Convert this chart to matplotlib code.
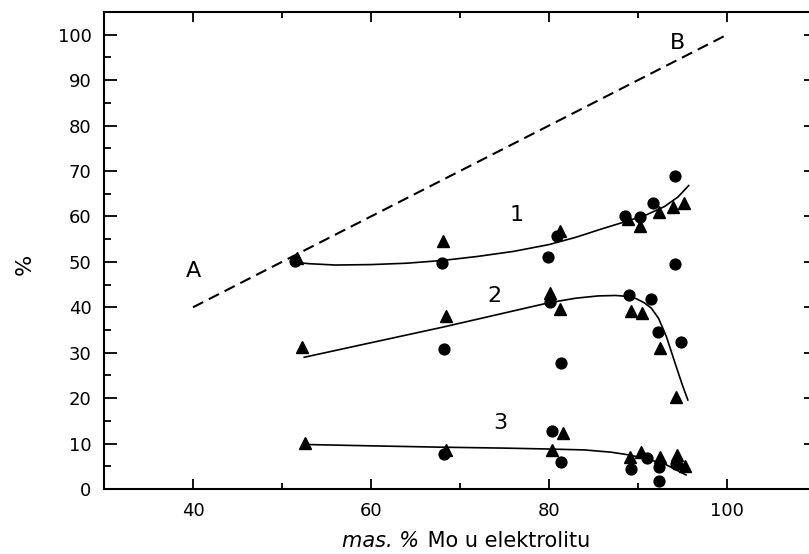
import matplotlib
matplotlib.use('Agg')
import matplotlib.pyplot as plt
from matplotlib.ticker import MultipleLocator

# data
# series 1
x1_circ = [51.5, 68.0, 79.9, 80.9, 88.5, 90.2, 91.7, 94.2, 94.2]
y1_circ = [50.1, 49.7, 51.0, 55.8, 60.2, 59.8, 62.9, 68.8, 49.5]
x1_tri = [51.7, 68.1, 81.2, 88.9, 90.2, 92.4, 93.9, 95.2]
y1_tri = [50.8, 54.7, 56.9, 59.5, 58.0, 60.9, 62.0, 62.9]
x1_fit = [51.5, 53, 56, 60, 64, 68, 72, 76, 80, 83, 86, 88.5, 91, 93, 94.5, 95.7]
y1_fit = [49.9, 49.6, 49.3, 49.4, 49.7, 50.3, 51.2, 52.3, 53.8, 55.4, 57.3, 58.8, 60.4, 62.2, 64.3, 66.8]

# series 2
x2_circ = [68.2, 80.1, 81.3, 89.0, 91.5, 92.3, 94.8]
y2_circ = [30.9, 41.1, 27.7, 42.6, 41.8, 34.5, 32.3]
x2_tri = [52.2, 68.4, 80.1, 81.2, 89.2, 90.4, 92.5, 94.3]
y2_tri = [31.2, 38.0, 43.1, 39.6, 39.2, 38.7, 31.0, 20.3]
x2_fit = [52.5, 60, 68, 74, 80, 83, 85.5, 87.5, 88.8, 89.8, 90.7, 91.5, 92.3, 93.2, 94.2, 95.0, 95.6]
y2_fit = [29.0, 32.2, 35.6, 38.3, 41.0, 42.0, 42.5, 42.6, 42.4, 41.9, 41.0, 39.8, 37.6, 33.5, 27.5, 22.8, 19.6]

# series 3
x3_circ = [68.2, 80.3, 81.4, 89.2, 91.0, 92.4, 92.4, 94.3]
y3_circ = [7.8, 12.7, 5.9, 4.5, 6.8, 4.9, 1.8, 5.5]
x3_tri = [52.6, 68.4, 80.3, 81.6, 89.1, 90.3, 92.5, 94.4, 94.6, 95.3]
y3_tri = [10.1, 8.6, 8.6, 12.3, 7.0, 8.1, 7.0, 7.5, 5.7, 5.1]
x3_fit = [52.5, 60, 68, 75, 80, 84, 87, 89, 91, 93, 95.4]
y3_fit = [9.8, 9.5, 9.2, 9.0, 8.8, 8.6, 8.1, 7.5, 6.6, 5.5, 3.1]

# line A-B
x_ab = [40, 100]
y_ab = [40, 100]

labels = ['A', 'B', '1', '2', '3']
label_x = [40.0, 94.4, 76.4, 73.9, 74.5]
label_y = [47.9, 98.2, 60.4, 42.4, 14.5]

plt.rcParams['font.family'] = ['DejaVu Sans']

fig = plt.figure(figsize=(8.09, 5.54), dpi=100)
ax = fig.add_axes([104/809, 65/554, 712/809, 477/554])

ax.plot(x_ab, y_ab, color='black', lw=1.5, ls=(0, (5.5, 3)))
for xf, yf in [(x1_fit, y1_fit), (x2_fit, y2_fit), (x3_fit, y3_fit)]:
    ax.plot(xf, yf, color='black', lw=1.2)
for xc, yc in [(x1_circ, y1_circ), (x2_circ, y2_circ), (x3_circ, y3_circ)]:
    ax.plot(xc, yc, 'o', color='black', ms=7.8, ls='none')
for xt, yt in [(x1_tri, y1_tri), (x2_tri, y2_tri), (x3_tri, y3_tri)]:
    ax.plot(xt, yt, '^', color='black', ms=9, ls='none')

for t, tx, ty in zip(labels, label_x, label_y):
    ax.text(tx, ty, t, fontsize=16, ha='center', va='center')

ax.set_xlim(30, 110)
ax.set_ylim(0, 105)
ax.xaxis.set_major_locator(MultipleLocator(20))
ax.xaxis.set_minor_locator(MultipleLocator(10))
ax.yaxis.set_major_locator(MultipleLocator(10))
ax.yaxis.set_minor_locator(MultipleLocator(5))

for s in ax.spines.values():
    s.set_linewidth(1.5)
ax.tick_params(which='both', direction='in', top=True, right=True, width=1.3)
ax.tick_params(axis='x', which='major', length=7, pad=9, labelsize=13)
ax.tick_params(axis='x', which='minor', length=4.5)
ax.tick_params(axis='y', which='major', length=9, pad=9, labelsize=13)
ax.tick_params(axis='y', which='minor', length=5)

# x label: italic part + normal part
fig.text(419/809, 7/554, 'mas. %', fontsize=15, fontstyle='italic', ha='right', va='baseline')
fig.text(421/809, 7/554, ' Mo u elektrolitu', fontsize=15, ha='left', va='baseline')

ax.set_ylabel('%', fontsize=16, va='center')
ax.yaxis.set_label_coords(-0.111, 0.47)

plt.savefig('out.png', dpi=100)
